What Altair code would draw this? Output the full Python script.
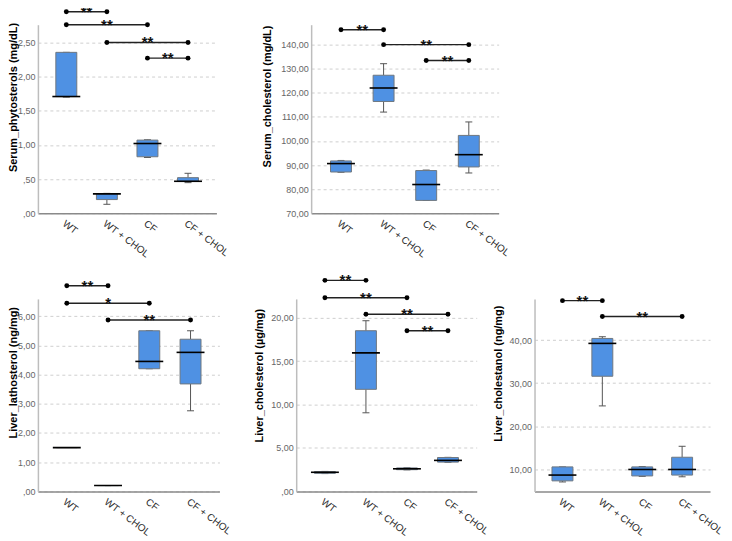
import altair as alt
import pandas as pd

groups = ["WT", "WT + CHOL", "CF", "CF + CHOL"]
positions = [0, 1, 2, 3]

# Serum phytosterols (mg/dL)
sp_lo = [1.70, 0.13, 0.815, 0.447]
sp_q1 = [1.708, 0.199, 0.826, 0.467]
sp_med = [1.708, 0.283, 1.02, 0.467]
sp_q3 = [2.355, 0.286, 1.07, 0.52]
sp_hi = [2.355, 0.29, 1.075, 0.584]
sp_sig_from = [0, 0, 1, 2]
sp_sig_to = [1, 2, 3, 3]
sp_sig_y = [2.95, 2.76, 2.50, 2.27]
sp_sig_text = ["**", "**", "**", "**"]
sp_ticks = [0, 0.5, 1.0, 1.5, 2.0, 2.5]

# Serum cholesterol (mg/dL)
sc_lo = [87.0, 112.0, 75.3, 86.7]
sc_q1 = [87.1, 116.4, 75.3, 89.2]
sc_med = [90.6, 122.0, 81.9, 94.3]
sc_q3 = [91.7, 127.3, 87.7, 102.3]
sc_hi = [91.9, 132.1, 87.9, 107.9]
sc_sig_from = [0, 1, 2]
sc_sig_to = [1, 3, 3]
sc_sig_y = [146.2, 140.0, 133.4]
sc_sig_text = ["**", "**", "**"]
sc_ticks = [70, 80, 90, 100, 110, 120, 130, 140]

# Liver lathosterol (ng/mg)
ll_lo = [1.5, 0.2, 4.2, 2.76]
ll_q1 = [1.5, 0.2, 4.2, 3.68]
ll_med = [1.5, 0.2, 4.45, 4.76]
ll_q3 = [1.5, 0.2, 5.5, 5.21]
ll_hi = [1.5, 0.2, 5.5, 5.5]
ll_sig_from = [0, 0, 1]
ll_sig_to = [1, 2, 3]
ll_sig_y = [7.04, 6.44, 5.87]
ll_sig_text = ["**", "*", "**"]
ll_ticks = [0, 1, 2, 3, 4, 5, 6]

# Liver cholesterol (µg/mg)
lc_lo = [2.05, 9.05, 2.48, 3.35]
lc_q1 = [2.08, 11.75, 2.5, 3.37]
lc_med = [2.2, 15.95, 2.6, 3.57]
lc_q3 = [2.28, 18.5, 2.7, 3.9]
lc_hi = [2.3, 19.65, 2.72, 3.92]
lc_sig_from = [0, 0, 1, 2]
lc_sig_to = [1, 2, 3, 3]
lc_sig_y = [24.3, 22.3, 20.4, 18.5]
lc_sig_text = ["**", "**", "**", "**"]
lc_ticks = [0, 5, 10, 15, 20]

# Liver cholestanol (ng/mg)
ln_lo = [7.0, 24.7, 8.3, 8.2]
ln_q1 = [7.25, 31.6, 8.4, 8.6]
ln_med = [8.6, 39.25, 9.9, 9.9]
ln_q3 = [10.5, 40.4, 10.5, 12.75]
ln_hi = [10.5, 40.8, 10.6, 15.3]
ln_sig_from = [0, 1]
ln_sig_to = [1, 3]
ln_sig_y = [49.2, 45.5]
ln_sig_text = ["**", "**"]
ln_ticks = [10, 20, 30, 40]

FONT = "Liberation Sans"
BOX_FILL = "#4F91E3"
BOX_EDGE = "#6f7780"
WHISK = "#555555"

label_expr = "[" + ",".join("'" + g + "'" for g in groups) + "][datum.value]"
num_expr = ("abs(datum.value) < 1 ? ',' + substring(format(datum.value, '.2f'), 2)"
            " : replace(format(datum.value, '.2f'), '.', ',')")


def panel(title, lo, q1, med, q3, hi, sfrom, sto, sy, stext, ticks, domain,
          width, height, title_x, title_y):
    box_df = pd.DataFrame({"pos": positions, "group": groups, "lo": lo, "q1": q1,
                           "med": med, "q3": q3, "hi": hi})
    sig_df = pd.DataFrame({"a": sfrom, "b": sto, "y": sy, "label": stext})
    sig_df["mid"] = (sig_df["a"] + sig_df["b"]) / 2
    end_df = pd.DataFrame({"p": list(sfrom) + list(sto), "y": list(sy) + list(sy)})

    xs = alt.Scale(domain=[-0.7, 3.7], nice=False, zero=False, padding=0)
    ys = alt.Scale(domain=domain, nice=False, zero=False, padding=0)
    xax = alt.Axis(values=positions, labelExpr=label_expr, title=None, grid=False,
                   ticks=False, domainColor="#8a8a8a", domainWidth=1.5,
                   labelAngle=37, labelAlign="left", labelBaseline="top",
                   labelFontSize=10, labelColor="#2e2e2e", labelPadding=5,
                   labelOverlap=False, labelFlush=False, labelFont=FONT)
    yax = alt.Axis(values=ticks, labelExpr=num_expr, title=title, grid=True,
                   gridColor="#cfcfcf", gridDash=[3, 3], gridWidth=1,
                   ticks=False, domainColor="#bdbdbd", domainWidth=1.5,
                   labelFontSize=9, labelColor="#666666", labelPadding=3,
                   labelOverlap=False, labelFlush=False, labelFont=FONT,
                   titleFont=FONT, titleFontSize=11, titleFontWeight="bold",
                   titleColor="#000000", titleX=title_x, titleY=title_y,
                   titleAngle=270, titleAlign="center", titleBaseline="bottom")

    def X(f):
        return alt.X(f, type="quantitative", scale=xs, axis=xax)

    def Y(f):
        return alt.Y(f, type="quantitative", scale=ys, axis=yax)

    base = alt.Chart(box_df)
    w_lo = base.mark_rule(color=WHISK, strokeWidth=1).encode(x=X("pos"), y=Y("lo"), y2="q1")
    w_hi = base.mark_rule(color=WHISK, strokeWidth=1).encode(x=X("pos"), y=Y("q3"), y2="hi")
    c_lo = base.mark_tick(orient="horizontal", size=7, thickness=1, color=WHISK,
                          opacity=1).encode(x=X("pos"), y=Y("lo"))
    c_hi = base.mark_tick(orient="horizontal", size=7, thickness=1, color=WHISK,
                          opacity=1).encode(x=X("pos"), y=Y("hi"))
    box = base.mark_bar(size=21, color=BOX_FILL, stroke=BOX_EDGE, strokeWidth=1,
                        opacity=1).encode(x=X("pos"), y=Y("q1"), y2="q3")
    mline = base.mark_tick(orient="horizontal", size=28, thickness=1.6, color="#000000",
                           opacity=1).encode(x=X("pos"), y=Y("med"))
    s_line = alt.Chart(sig_df).mark_rule(color="#222222", strokeWidth=1.4).encode(
        x=X("a"), x2="b", y=Y("y"))
    s_dot = alt.Chart(end_df).mark_circle(size=24, color="#000000", opacity=1).encode(
        x=X("p"), y=Y("y"))
    s_txt = alt.Chart(sig_df).mark_text(font=FONT, fontSize=15, fontWeight="bold",
                                        baseline="alphabetic", dy=5, color="#111111").encode(
        x=X("mid"), y=Y("y"), text="label")
    return alt.layer(w_lo, w_hi, c_lo, c_hi, box, mline, s_line, s_dot, s_txt).properties(
        width=width, height=height)


TOP_H = 189
BOT_H = 193

p1 = panel("Serum_phytosterols (mg/dL)", sp_lo, sp_q1, sp_med, sp_q3, sp_hi,
           sp_sig_from, sp_sig_to, sp_sig_y, sp_sig_text, sp_ticks, [0, 2.76],
           179, TOP_H, -19, TOP_H / 2 - 22)
p2 = panel("Serum_cholesterol (mg/dL)", sc_lo, sc_q1, sc_med, sc_q3, sc_hi,
           sc_sig_from, sc_sig_to, sc_sig_y, sc_sig_text, sc_ticks, [70, 148.3],
           188, TOP_H, -39, TOP_H / 2 - 23)
p3 = panel("Liver_lathosterol (ng/mg)", ll_lo, ll_q1, ll_med, ll_q3, ll_hi,
           ll_sig_from, ll_sig_to, ll_sig_y, ll_sig_text, ll_ticks, [0, 6.59],
           182, BOT_H, -19, BOT_H / 2 - 23)
p4 = panel("Liver_cholesterol (µg/mg)", lc_lo, lc_q1, lc_med, lc_q3, lc_hi,
           lc_sig_from, lc_sig_to, lc_sig_y, lc_sig_text, lc_ticks, [0, 22.16],
           181, BOT_H, -32, BOT_H / 2 - 20)
p5 = panel("Liver_cholestanol (ng/mg)", ln_lo, ln_q1, ln_med, ln_q3, ln_hi,
           ln_sig_from, ln_sig_to, ln_sig_y, ln_sig_text, ln_ticks, [4.8, 49.6],
           176, BOT_H, -31, BOT_H / 2 - 22)

top = alt.hconcat(p1, p2, spacing=30)
bottom = alt.hconcat(p3, alt.hconcat(p4, p5, spacing=1), spacing=21)

chart = alt.vconcat(top, bottom, spacing=14).properties(
    padding={"left": -1, "top": -5, "right": 0, "bottom": 0}
).configure_view(stroke=None)

chart.save("out.html", embed_options={"renderer": "svg", "actions": False})
